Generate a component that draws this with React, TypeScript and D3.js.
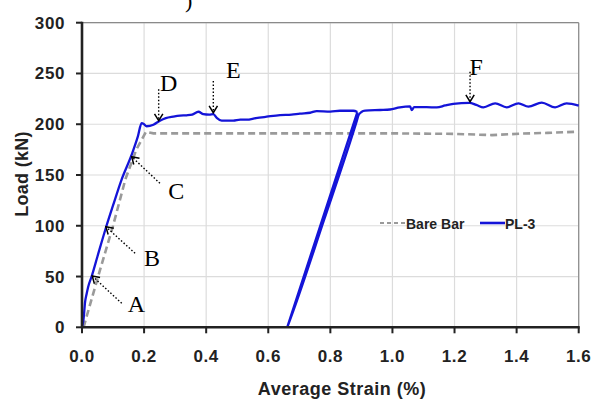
import React from "react";
import * as d3 from "d3";

const xTicks = [0, 0.2, 0.4, 0.6, 0.8, 1.0, 1.2, 1.4, 1.6];
const yTicks = [0, 50, 100, 150, 200, 250, 300];

const seriesNames = ["Bare Bar", "PL-3"];

const bareBar: [number, number][] = [
  [0.005, 0], [0.05, 48], [0.1, 100], [0.14, 146], [0.175, 175], [0.206, 192.5],
  [0.23, 191], [0.4, 191], [0.6, 191], [0.8, 191], [1.0, 191], [1.2, 190.5],
  [1.32, 189.3], [1.42, 190.8], [1.5, 191.5], [1.6, 192.6],
];

const pl3: [number, number][] = [
  [0, 0], [0.005, 8], [0.01, 25], [0.015, 33], [0.02, 40], [0.031, 50], [0.05, 70],
  [0.078, 99], [0.1, 120], [0.127, 145], [0.16, 170], [0.18, 188], [0.192, 201],
  [0.2, 200], [0.208, 198], [0.23, 199.5], [0.251, 203.5], [0.27, 206], [0.294, 207.5],
  [0.316, 208.5], [0.337, 208.8], [0.355, 209.5], [0.375, 212.3], [0.391, 210],
  [0.41, 209.5], [0.423, 210], [0.435, 206], [0.45, 203.5], [0.487, 203.5],
  [0.51, 204.5], [0.53, 204.5], [0.56, 206], [0.595, 207.4], [0.638, 209],
  [0.675, 209.5], [0.702, 210.5], [0.735, 211.3], [0.756, 213], [0.8, 212.5],
  [0.831, 213.3], [0.874, 213.3], [0.887, 212],
  [0.661, 0], [0.666, 4], [0.78, 106], [0.885, 203], [0.891, 209],
  [0.9, 212], [0.912, 213.3], [0.96, 214], [0.992, 214.5], [1.024, 216.6],
  [1.057, 217.5], [1.062, 214], [1.07, 216.8], [1.11, 216.8], [1.143, 216.6],
  [1.17, 218.5], [1.196, 220], [1.248, 221], [1.27, 219], [1.293, 216.6],
  [1.331, 220.6], [1.368, 216.6], [1.406, 220.6], [1.438, 217.3], [1.481, 221.3],
  [1.524, 216.6], [1.561, 220.6], [1.6, 218.3],
];

// annotation: label, tip (strain, load), tail (strain, load), label anchor (strain, load)
const annLabels = ["A", "B", "C", "D", "E", "F"];
const annTips: [number, number][] = [
  [0.033, 50.5], [0.077, 99], [0.16, 168], [0.247, 203.5], [0.423, 211.3], [1.25, 222.2],
];
const annTails: [number, number][] = [
  [0.128, 23.6], [0.171, 72.9], [0.251, 141.8], [0.247, 234.4], [0.423, 242.6], [1.25, 251.7],
];
const annText: [number, number][] = [
  [0.147, 14.8], [0.2, 60.7], [0.278, 126], [0.251, 233], [0.464, 245.2], [1.248, 248.5],
];

const W = 596;
const H = 401;
const X0 = 82;
const X1 = 578.7;
const Y0 = 327.3;
const Y1 = 22.7;

// split a path into runs of increasing / decreasing x
function splitRuns(pts: [number, number][]) {
  const runs: { inc: boolean; pts: [number, number][] }[] = [];
  let cur: [number, number][] = [pts[0]];
  let inc = pts[1][0] >= pts[0][0];
  for (let i = 1; i < pts.length; i++) {
    const isInc = pts[i][0] >= pts[i - 1][0];
    if (isInc !== inc) {
      runs.push({ inc, pts: cur });
      cur = [pts[i - 1]];
      inc = isInc;
    }
    cur.push(pts[i]);
  }
  runs.push({ inc, pts: cur });
  return runs;
}

export default function App() {
  const x = d3.scaleLinear().domain([0, 1.6]).range([X0, X1]);
  const y = d3.scaleLinear().domain([0, 300]).range([Y0, Y1]);
  const lineMono = d3
    .line<[number, number]>()
    .x((d) => x(d[0]))
    .y((d) => y(d[1]))
    .curve(d3.curveMonotoneX);
  const lineLin = d3
    .line<[number, number]>()
    .x((d) => x(d[0]))
    .y((d) => y(d[1]));

  const sans = "'Liberation Sans', Arial, sans-serif";
  const serif = "'Liberation Serif', 'Times New Roman', serif";
  const blue = "#1414d8";
  const gray = "#9a9a9a";

  const runs = splitRuns(pl3);
  const plPath = runs
    .map((r) => (r.inc && r.pts.length > 2 ? lineMono(r.pts) : lineLin(r.pts)) || "")
    .join("");

  const arrowHead = (tip: [number, number], tail: [number, number]) => {
    const tx = x(tip[0]), ty = y(tip[1]);
    const sx = x(tail[0]), sy = y(tail[1]);
    const ang = Math.atan2(sy - ty, sx - tx);
    const L = 8, spread = 0.55;
    const p1 = [tx + L * Math.cos(ang + spread), ty + L * Math.sin(ang + spread)];
    const p2 = [tx + L * Math.cos(ang - spread), ty + L * Math.sin(ang - spread)];
    return `M${p1[0]},${p1[1]}L${tx},${ty}L${p2[0]},${p2[1]}`;
  };

  return (
    <svg
      width={W}
      height={H}
      style={{ position: "absolute", left: 0, top: 0, background: "#fff" }}
    >
      <rect x={0} y={0} width={W} height={H} fill="#fff" />
      <text x={185} y={8} fontFamily={serif} fontSize={22} fill="#000">)</text>
      {/* grid */}
      {xTicks.slice(1).map((t) => (
        <line key={"gx" + t} x1={x(t)} x2={x(t)} y1={Y1} y2={Y0} stroke="#dcdcdc" strokeWidth={1.2} />
      ))}
      {yTicks.slice(1).map((t) => (
        <line key={"gy" + t} x1={X0} x2={X1} y1={y(t)} y2={y(t)} stroke="#dcdcdc" strokeWidth={1.2} />
      ))}
      {/* border top/right */}
      <line x1={X0} x2={X1} y1={Y1} y2={Y1} stroke="#8a8a8a" strokeWidth={1.2} />
      <line x1={X1} x2={X1} y1={Y1} y2={Y0} stroke="#8a8a8a" strokeWidth={1.2} />

      {/* series */}
      <path d={lineLin(bareBar) || ""} fill="none" stroke={gray} strokeWidth={2.6} strokeDasharray="7,4" />
      <path d={plPath} fill="none" stroke={blue} strokeWidth={2.3} strokeLinejoin="round" />

      {/* axes */}
      <line x1={X0} x2={X0} y1={Y1 - 1} y2={Y0 + 1} stroke="#222" strokeWidth={2.6} />
      <line x1={X0 - 1} x2={X1 + 1} y1={Y0} y2={Y0} stroke="#222" strokeWidth={2.6} />
      {yTicks.map((t) => (
        <g key={"yt" + t}>
          <line x1={X0 - 6} x2={X0} y1={y(t)} y2={y(t)} stroke="#222" strokeWidth={2} />
          <text
            x={X0 - 17}
            y={y(t) + 6}
            textAnchor="end"
            fontFamily={sans}
            fontWeight="bold"
            fontSize={17}
            letterSpacing={0.6}
            fill="#222"
          >
            {t}
          </text>
        </g>
      ))}
      {xTicks.map((t) => (
        <g key={"xt" + t}>
          <line x1={x(t)} x2={x(t)} y1={Y0} y2={Y0 + 6} stroke="#222" strokeWidth={2} />
          <text
            x={x(t)}
            y={362}
            textAnchor="middle"
            fontFamily={sans}
            fontWeight="bold"
            fontSize={17}
            letterSpacing={0.6}
            fill="#222"
          >
            {t.toFixed(1)}
          </text>
        </g>
      ))}
      <text
        x={342}
        y={395}
        textAnchor="middle"
        fontFamily={sans}
        fontWeight="bold"
        fontSize={18}
        letterSpacing={0.5}
        fill="#222"
      >
        Average Strain (%)
      </text>
      <text
        transform={`translate(28,174) rotate(-90)`}
        textAnchor="middle"
        fontFamily={sans}
        fontWeight="bold"
        fontSize={18}
        letterSpacing={0.3}
        fill="#222"
      >
        Load (kN)
      </text>

      {/* legend */}
      <line x1={380} x2={405} y1={223} y2={223} stroke={gray} strokeWidth={2.2} strokeDasharray="4,3" />
      <text x={406} y={228.5} fontFamily={sans} fontWeight="bold" fontSize={14} fill="#222">
        {seriesNames[0]}
      </text>
      <line x1={480} x2={505} y1={223} y2={223} stroke={blue} strokeWidth={2.6} />
      <text x={505} y={228.5} fontFamily={sans} fontWeight="bold" fontSize={14} fill="#222">
        {seriesNames[1]}
      </text>

      {/* annotations */}
      {annLabels.map((lab, i) => (
        <g key={"ann" + lab}>
          <line
            x1={x(annTails[i][0])}
            y1={y(annTails[i][1])}
            x2={x(annTips[i][0])}
            y2={y(annTips[i][1])}
            stroke="#000"
            strokeWidth={1.4}
            strokeDasharray="1.5,2"
          />
          <path d={arrowHead(annTips[i], annTails[i])} fill="none" stroke="#000" strokeWidth={1.5} />
          <text x={x(annText[i][0])} y={y(annText[i][1])} fontFamily={serif} fontSize={24} fill="#000">
            {lab}
          </text>
        </g>
      ))}
    </svg>
  );
}
